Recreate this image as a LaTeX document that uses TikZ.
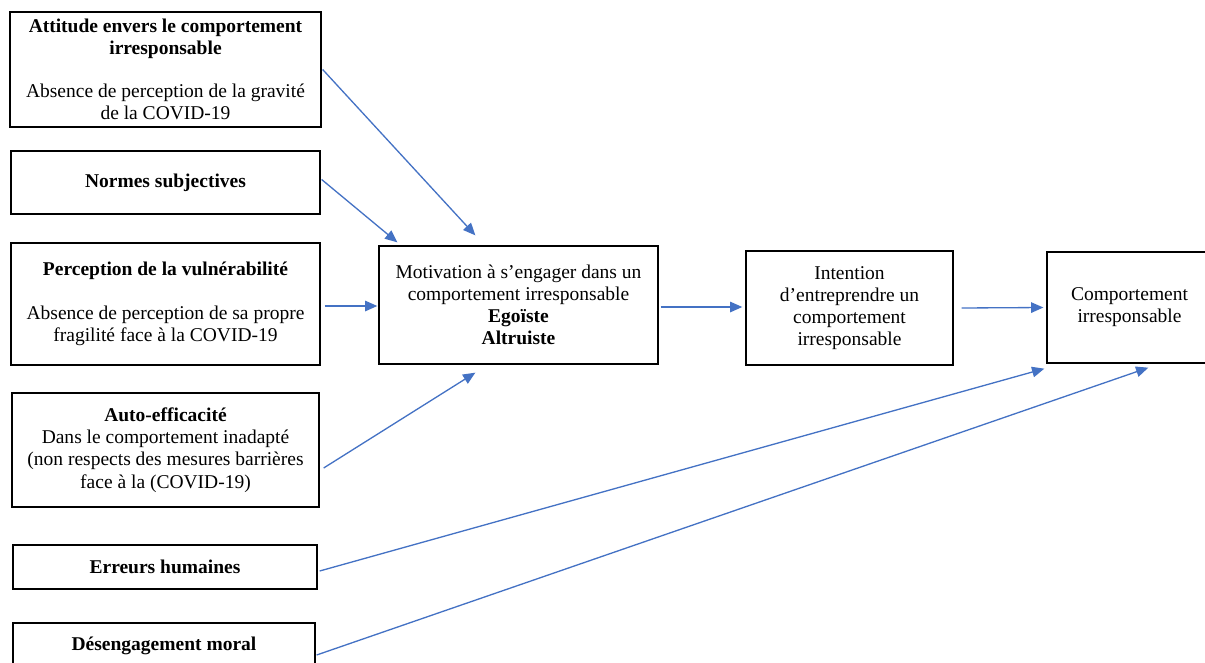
\documentclass[tikz,border=0pt]{standalone}
\usepackage{fontspec}
\setmainfont{Liberation Serif}
\usetikzlibrary{calc,arrows.meta}
\newcommand\pxu{0.02cm}
\begin{document}
\begin{tikzpicture}[x=\pxu,y=-\pxu,
    box/.style={draw,line width=0.75pt,align=center,inner sep=0pt,font=\fontsize{11.1}{12.6}\selectfont},
    arr/.style={-{Triangle[width=6pt,length=7pt]},draw={rgb,255:red,68;green,114;blue,196},line width=0.75pt}]
        \useasboundingbox (0,0) rectangle (1205,663);
        \node[box,minimum width=311*\pxu,minimum height=115*\pxu] (att) at (165.5,69.5) {\textbf{Attitude envers le comportement}\\\textbf{irresponsable}\\[12pt]Absence de perception de la gravité\\de la COVID-19};
        \node[box,minimum width=309*\pxu,minimum height=63*\pxu] (norm) at (165.5,182.5) {\textbf{Normes subjectives}};
        \node[box,minimum width=309*\pxu,minimum height=122*\pxu] (perc) at (165.5,304) {\textbf{Perception de la vulnérabilité}\\[12pt]Absence de perception de sa propre\\fragilité face à la COVID-19};
        \node[box,minimum width=307*\pxu,minimum height=114*\pxu] (auto) at (165.5,450) {\textbf{Auto-efficacité}\\Dans le comportement inadapté\\(non respects des mesures barrières\\face à la (COVID-19)};
        \node[box,minimum width=304*\pxu,minimum height=44*\pxu] (err) at (165,567) {\textbf{Erreurs humaines}};
        \node[box,minimum width=302*\pxu,minimum height=46*\pxu] (des) at (164,646) {\textbf{Désengagement moral}};
        \node[box,minimum width=279*\pxu,minimum height=118*\pxu] (mot) at (518.5,305) {Motivation à s’engager dans un\\comportement irresponsable\\\textbf{Egoïste}\\\textbf{Altruiste}};
        \node[box,minimum width=207*\pxu,minimum height=114*\pxu] (int) at (849.5,308) {Intention\\d’entreprendre un\\comportement\\irresponsable};
        \node[box,minimum width=165*\pxu,minimum height=111*\pxu] (comp) at (1129.5,307.5) {Comportement\\irresponsable};
        \draw[arr] ($(att.east)+(1,0)$) -- ($(mot.north west)+(97,-10)$);
        \draw[arr] ($(norm.east)+(1,-3)$) -- ($(mot.north west)+(19,-3)$);
        \draw[arr] ($(perc.east)+(4,2)$) -- ($(mot.west)+(-1,1)$);
        \draw[arr] ($(auto.east)+(4,18)$) -- ($(mot.south west)+(97,8)$);
        \draw[arr] ($(mot.east)+(2,2)$) -- ($(int.west)+(-3,-1)$);
        \draw[arr] ($(int.east)+(8,0)$) -- ($(comp.west)+(-3,0)$);
        \draw[arr] ($(err.east)+(2,4)$) -- ($(comp.south west)+(-2,5)$);
        \draw[arr] ($(des.east)+(1,9)$) -- ($(comp.south west)+(102,4)$);
    \end{tikzpicture}
\end{document}
